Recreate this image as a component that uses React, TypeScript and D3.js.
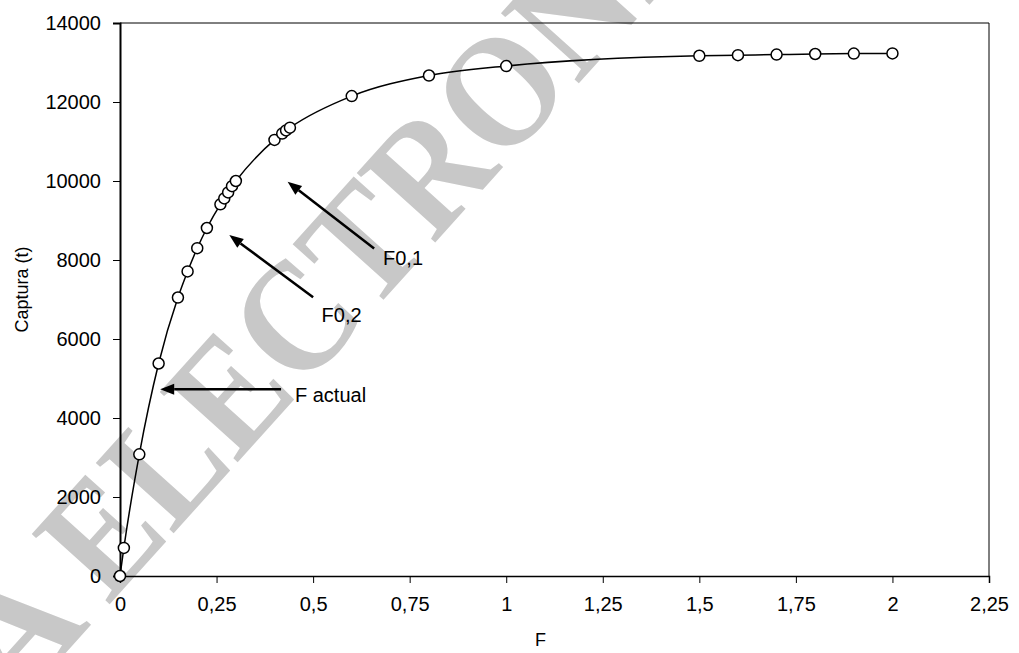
import React from "react";
import * as d3 from "d3";

const MARGINS = { top: 23, right: 30, bottom: 77, left: 120 };
const WIDTH = 1019;
const HEIGHT = 653;

// F values and catch (t)
const fValues = [
  0, 0.01, 0.05, 0.1, 0.15, 0.175, 0.2, 0.225, 0.26, 0.27, 0.28, 0.29, 0.3,
  0.4, 0.42, 0.43, 0.44, 0.6, 0.8, 1.0, 1.5, 1.6, 1.7, 1.8, 1.9, 2.0,
];
const catchValues = [
  0, 710, 3080, 5380, 7050, 7710, 8300, 8810, 9410, 9560, 9710, 9870, 10000,
  11040, 11200, 11280, 11350, 12150, 12670, 12910, 13170, 13185, 13200, 13215,
  13225, 13230,
];

const xTicks = [0, 0.25, 0.5, 0.75, 1, 1.25, 1.5, 1.75, 2, 2.25];
const yTicks = [0, 2000, 4000, 6000, 8000, 10000, 12000, 14000];

// arrows: label, tail (F, C), tip (F, C), label anchor (F, C)
const arrowLabels = ["F actual", "F0,2", "F0,1"];
const arrowTails = [
  [0.417, 4730],
  [0.5, 7060],
  [0.658, 8290],
];
const arrowTips = [
  [0.104, 4730],
  [0.283, 8630],
  [0.434, 9980],
];
const labelAnchors = [
  [0.453, 4575],
  [0.522, 6600],
  [0.681, 8040],
];

const fmt = (v: number) => String(v).replace(".", ",");

const App = () => {
  const ref = React.useRef<SVGSVGElement>(null);

  React.useEffect(() => {
    const svgEl = ref.current!;
    const root = d3.select(svgEl);
    root.selectAll("*").remove();

    const width = WIDTH - MARGINS.left - MARGINS.right;
    const height = HEIGHT - MARGINS.top - MARGINS.bottom;

    // watermark behind everything
    const wm = root
      .append("g")
      .attr("transform", "translate(108,606) rotate(-48)")
      .attr("fill", "#c8c8c8")
      .attr("font-family", "Liberation Serif")
      .attr("font-weight", "bold")
      .attr("font-size", 160);
    wm.append("text")
      .attr("x", 0)
      .attr("textLength", 860)
      .attr("lengthAdjust", "spacingAndGlyphs")
      .text("ELECTRONI");
    wm.append("text")
      .attr("x", -24)
      .attr("text-anchor", "end")
      .text("A");

    const svg = root
      .append("g")
      .attr("transform", `translate(${MARGINS.left}, ${MARGINS.top})`);

    const x = d3.scaleLinear().domain([0, 2.25]).range([0, width]);
    const y = d3.scaleLinear().domain([0, 14000]).range([height, 0]);

    // frame top/right
    svg
      .append("path")
      .attr("d", `M0,0H${width}V${height}`)
      .attr("fill", "none")
      .attr("stroke", "#000")
      .attr("stroke-width", 1);

    const xAxis = d3
      .axisBottom(x)
      .tickValues(xTicks)
      .tickSize(7)
      .tickPadding(14)
      .tickFormat((d) => fmt(d as number));
    const gx = svg
      .append("g")
      .attr("transform", `translate(0, ${height})`)
      .call(xAxis);
    gx.select(".domain").attr("stroke-width", 1.5);

    const yAxis = d3
      .axisLeft(y)
      .tickValues(yTicks)
      .tickSize(7)
      .tickPadding(12)
      .tickFormat((d) => String(d));
    const gy = svg.append("g").call(yAxis);
    gy.select(".domain").attr("stroke-width", 2);

    root
      .selectAll(".tick text")
      .attr("font-family", "Liberation Sans, Arial, sans-serif")
      .attr("font-size", 20)
      .attr("fill", "#000");
    root.selectAll(".tick line").attr("stroke", "#000");
    root.selectAll(".domain").attr("stroke", "#000");

    svg
      .append("text")
      .attr("x", width / 2 - 14)
      .attr("y", height + 70)
      .attr("text-anchor", "middle")
      .attr("font-family", "Liberation Sans, Arial, sans-serif")
      .attr("font-size", 18)
      .text("F");

    svg
      .append("text")
      .attr("transform", `translate(${-98}, ${height / 2 - 10}) rotate(-90)`)
      .attr("text-anchor", "middle")
      .attr("dy", "0.35em")
      .attr("font-family", "Liberation Sans, Arial, sans-serif")
      .attr("font-size", 18)
      .text("Captura (t)");

    const points = fValues.map((f, i) => [f, catchValues[i]] as [number, number]);

    const line = d3
      .line<[number, number]>()
      .x((d) => x(d[0]))
      .y((d) => y(d[1]))
      .curve(d3.curveMonotoneX);

    svg
      .append("path")
      .datum(points)
      .attr("d", line)
      .attr("fill", "none")
      .attr("stroke", "#000")
      .attr("stroke-width", 1.5);

    svg
      .selectAll("circle.pt")
      .data(points)
      .enter()
      .append("circle")
      .attr("class", "pt")
      .attr("cx", (d) => x(d[0]))
      .attr("cy", (d) => y(d[1]))
      .attr("r", 5.5)
      .attr("fill", "#fff")
      .attr("stroke", "#000")
      .attr("stroke-width", 1.5);

    // arrows
    arrowLabels.forEach((label, i) => {
      const x1 = x(arrowTails[i][0]);
      const y1 = y(arrowTails[i][1]);
      const x2 = x(arrowTips[i][0]);
      const y2 = y(arrowTips[i][1]);
      const ang = Math.atan2(y2 - y1, x2 - x1);
      const headLen = 14;
      const headW = 5.5;
      const bx = x2 - headLen * Math.cos(ang);
      const by = y2 - headLen * Math.sin(ang);
      svg
        .append("line")
        .attr("x1", x1)
        .attr("y1", y1)
        .attr("x2", bx)
        .attr("y2", by)
        .attr("stroke", "#000")
        .attr("stroke-width", 2.5);
      const px = -Math.sin(ang) * headW;
      const py = Math.cos(ang) * headW;
      svg
        .append("path")
        .attr(
          "d",
          `M${x2},${y2}L${bx + px},${by + py}L${bx - px},${by - py}Z`
        )
        .attr("fill", "#000");
      svg
        .append("text")
        .attr("x", x(labelAnchors[i][0]))
        .attr("y", y(labelAnchors[i][1]))
        .attr("dy", "0.35em")
        .attr("font-family", "Liberation Sans, Arial, sans-serif")
        .attr("font-size", 20)
        .text(label);
    });
  }, []);

  return (
    <svg
      ref={ref}
      width={WIDTH}
      height={HEIGHT}
      style={{ position: "absolute", left: 0, top: 0, background: "#fff" }}
    />
  );
};

export default App;
